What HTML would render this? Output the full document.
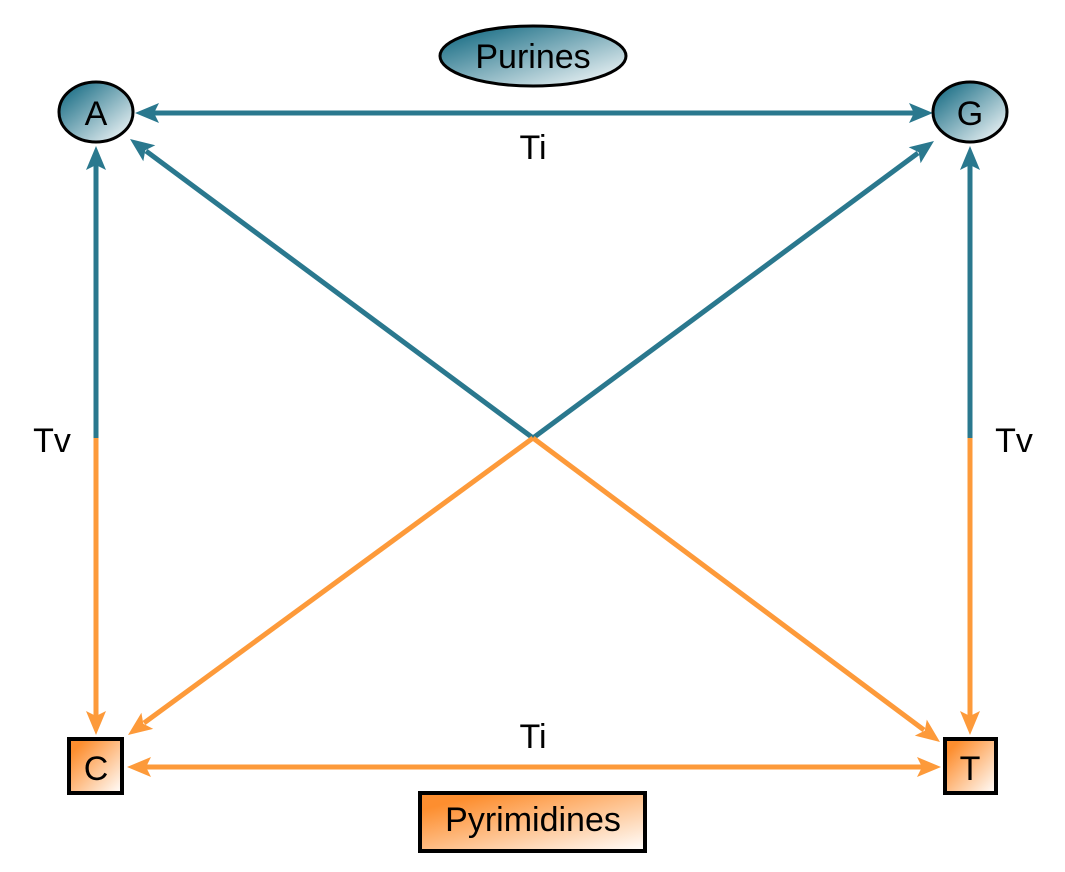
<!DOCTYPE html>
<html><head><style>body{margin:0;background:#fff}svg{display:block}</style></head><body>
<svg width="1065" height="872" viewBox="0 0 1065 872" xmlns="http://www.w3.org/2000/svg" font-family="Liberation Sans, sans-serif">
<defs>
<linearGradient id="tg" x1="0" y1="0" x2="1" y2="1"><stop offset="0.15" stop-color="#2a788e"/><stop offset="1" stop-color="#ffffff"/></linearGradient>
<linearGradient id="og" x1="0" y1="0" x2="1" y2="1"><stop offset="0.15" stop-color="#fd8e2f"/><stop offset="1" stop-color="#ffffff"/></linearGradient>
</defs>
<g stroke-width="5" fill="none">
<line x1="96" y1="438" x2="96" y2="160" stroke="#2a788e"/>
<line x1="96" y1="438" x2="96" y2="720" stroke="#fd9a3a"/>
<line x1="970" y1="438" x2="970" y2="160" stroke="#2a788e"/>
<line x1="970" y1="438" x2="970" y2="720" stroke="#fd9a3a"/>
<line x1="533" y1="438" x2="146" y2="151" stroke="#2a788e"/>
<line x1="533" y1="438" x2="918" y2="153" stroke="#2a788e"/>
<line x1="533" y1="438" x2="144" y2="723" stroke="#fd9a3a"/>
<line x1="533" y1="438" x2="924" y2="730" stroke="#fd9a3a"/>
<line x1="150" y1="113" x2="918" y2="113" stroke="#2a788e"/>
<line x1="142" y1="767" x2="926" y2="767" stroke="#fd9a3a"/>
</g>
<g fill="#2a788e">
<polygon points="135,113 159,103 154,113 159,123"/>
<polygon points="933,113 909,103 914,113 909,123"/>
<polygon points="96,146 86,170 96,165 106,170"/>
<polygon points="970,146 960,170 970,165 980,170"/>
<polygon points="130,139 143.3,161.3 145.3,150.3 155.3,145.3"/>
<polygon points="934,141 920.6,163.3 918.7,152.3 908.7,147.3"/>
</g>
<g fill="#fd9a3a">
<polygon points="127,767 151,757 146,767 151,777"/>
<polygon points="941,767 917,757 922,767 917,777"/>
<polygon points="96,735 86,711 96,716 106,711"/>
<polygon points="970,735 960,711 970,716 980,711"/>
<polygon points="128,735 153.2,728.9 143.3,723.8 141.4,712.7"/>
<polygon points="940,742 914.8,735.6 924.8,730.6 926.8,719.6"/>
</g>
<ellipse cx="533" cy="56" rx="93" ry="30" fill="url(#tg)" stroke="#000" stroke-width="3"/>
<ellipse cx="96" cy="112" rx="37" ry="30" fill="url(#tg)" stroke="#000" stroke-width="3"/>
<ellipse cx="970" cy="112" rx="37" ry="30" fill="url(#tg)" stroke="#000" stroke-width="3"/>
<rect x="69" y="739" width="53" height="54" fill="url(#og)" stroke="#000" stroke-width="4"/>
<rect x="945" y="739" width="51" height="54" fill="url(#og)" stroke="#000" stroke-width="4"/>
<rect x="420" y="793" width="225" height="58" fill="url(#og)" stroke="#000" stroke-width="4"/>
<g font-size="34" text-anchor="middle" fill="#000">
<text x="533" y="68">Purines</text>
<text x="96" y="125">A</text>
<text x="970" y="125">G</text>
<text x="96" y="780">C</text>
<text x="970" y="780">T</text>
<text x="533" y="831">Pyrimidines</text>
<text x="533" y="159">Ti</text>
<text x="533" y="748">Ti</text>
<text x="52" y="452">Tv</text>
<text x="1014" y="452">Tv</text>
</g>
</svg>
</body></html>
